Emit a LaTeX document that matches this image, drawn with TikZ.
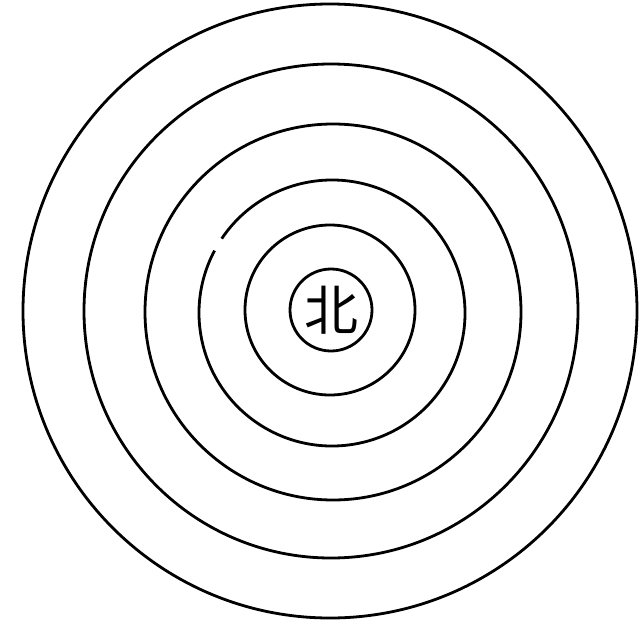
\documentclass[tikz,border=0pt]{standalone}
\usepackage{fontspec}
\newfontfamily\cjk{Noto Sans CJK SC}
\begin{document}
\begin{tikzpicture}[x=1pt,y=-1pt,
  ring/.style={draw=black,line width=2.8pt}]
\useasboundingbox (0,0) rectangle (640,621);
\coordinate (c) at (330,311);
\draw[ring] (c) circle[radius=307];
\draw[ring] (331,311) circle[radius=247];
\draw[ring] (333,312) circle[radius=188];
\draw[ring] (332,313) ++(-146:133) arc[start angle=-146,end angle=208,radius=133];
\draw[ring] (330,310) circle[radius=85];
\node[ring,circle,minimum size=82pt,inner sep=0pt,font=\cjk\fontsize{54}{54}\selectfont] (n) at (331,310) {北};
\end{tikzpicture}
\end{document}
